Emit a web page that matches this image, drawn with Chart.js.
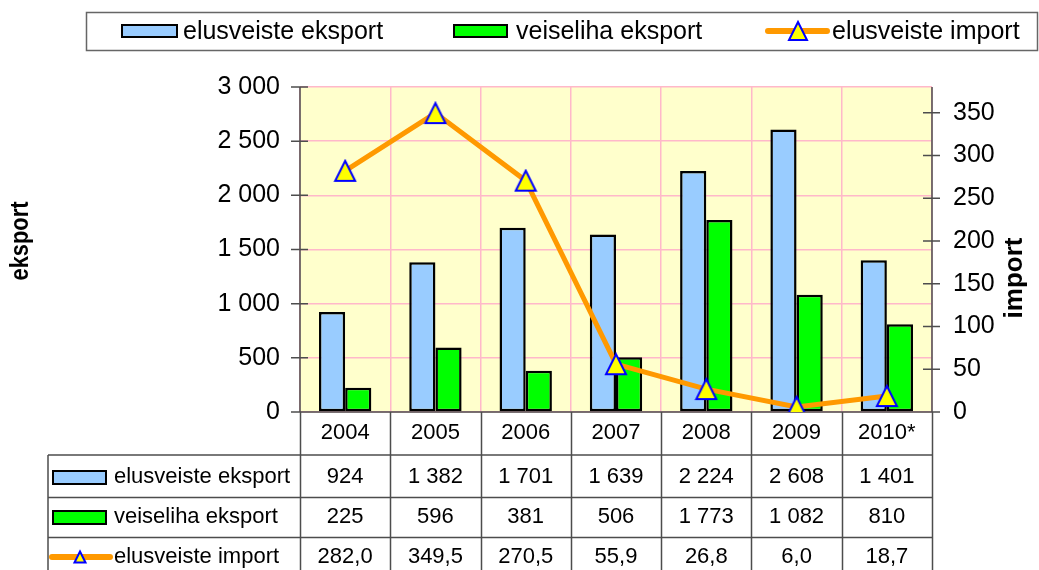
<!DOCTYPE html>
<html>
<head>
<meta charset="utf-8">
<script src="https://cdn.jsdelivr.net/npm/chart.js@4.4.1/dist/chart.umd.min.js"></script>
<style>
  body { margin: 0; background: #fff; }
  canvas { display: block; }
</style>
</head>
<body>
<canvas id="myChart" width="1039" height="570"></canvas>
<script>
// data
const years = ["2004", "2005", "2006", "2007", "2008", "2009", "2010*"];
const liveExport = [924, 1382, 1701, 1639, 2224, 2608, 1401];
const beefExport = [225, 596, 381, 506, 1773, 1082, 810];
const liveImport = [282.0, 349.5, 270.5, 55.9, 26.8, 6.0, 18.7];
const importTicks = [0, 50, 100, 150, 200, 250, 300, 350];

const FONT = "'Liberation Sans', Arial, sans-serif";
const BLUE = "#99CCFF";
const GREEN = "#00FF00";
const ORANGE = "#FF9900";
const PINK = "#FFB8CA";
const LINE = "#4d4d4d";

function spaced(v) {
  return String(v).replace(/\B(?=(\d{3})+(?!\d))/g, " ");
}
function comma(v) {
  return v.toFixed(1).replace(".", ",");
}

// isoceles triangle, w wide, h tall, centred on (x, y)
function triangle(ctx, x, y, w, h, lw) {
  ctx.save();
  ctx.beginPath();
  ctx.moveTo(x, y - h / 2);
  ctx.lineTo(x + w / 2, y + h / 2);
  ctx.lineTo(x - w / 2, y + h / 2);
  ctx.closePath();
  ctx.fillStyle = "#FFFF00";
  ctx.fill();
  ctx.lineWidth = lw;
  ctx.strokeStyle = "#0000FF";
  ctx.stroke();
  ctx.restore();
}

const marker = document.createElement("canvas");
marker.width = 24;
marker.height = 24;
triangle(marker.getContext("2d"), 12, 12, 20, 20, 2);

function swatch(ctx, x, y, w, h, color) {
  ctx.fillStyle = color;
  ctx.fillRect(x, y, w, h);
  ctx.lineWidth = 2;
  ctx.strokeStyle = "#000";
  ctx.strokeRect(x, y, w, h);
}

function lineSymbol(ctx, x1, x2, y, tx, s) {
  ctx.save();
  ctx.strokeStyle = ORANGE;
  ctx.lineWidth = 6;
  ctx.lineCap = "round";
  ctx.beginPath();
  ctx.moveTo(x1, y);
  ctx.lineTo(x2, y);
  ctx.stroke();
  ctx.restore();
  triangle(ctx, tx, y, s, s, 2);
}

function rotatedText(ctx, text, x, y, font, squeeze) {
  ctx.save();
  ctx.font = font;
  ctx.translate(x, y);
  ctx.rotate(-Math.PI / 2);
  ctx.scale(squeeze, 1);
  ctx.fillText(text, 0, 0);
  ctx.restore();
}

const chartDecor = {
  id: "chartDecor",
  beforeDraw(chart) {
    const { ctx, chartArea: a } = chart;
    ctx.save();
    ctx.fillStyle = "#FFFFCC";
    ctx.fillRect(a.left, a.top, a.right - a.left, a.bottom - a.top);
    ctx.restore();
  },
  beforeDatasetsDraw(chart) {
    const { ctx, chartArea: a, scales } = chart;
    ctx.save();
    ctx.strokeStyle = LINE;
    ctx.lineWidth = 1.5;
    ctx.beginPath();
    ctx.moveTo(a.left, a.top);
    ctx.lineTo(a.left, a.bottom);
    ctx.moveTo(a.right, a.top);
    ctx.lineTo(a.right, a.bottom);
    ctx.moveTo(a.left, a.bottom);
    ctx.lineTo(a.right, a.bottom);
    // crossing tick marks
    scales.y.ticks.forEach(t => {
      const y = scales.y.getPixelForValue(t.value);
      ctx.moveTo(a.left - 9, y);
      ctx.lineTo(a.left + 8, y);
    });
    scales.y1.ticks.forEach(t => {
      const y = scales.y1.getPixelForValue(t.value);
      ctx.moveTo(a.right - 9, y);
      ctx.lineTo(a.right + 8, y);
    });
    ctx.stroke();
    ctx.restore();
  },
  afterDraw(chart) {
    const { ctx, chartArea: a, scales } = chart;
    const x = scales.x;
    const step = (a.right - a.left) / years.length;
    const rows = [455, 497.5, 537.5];
    const tableLeft = 48;

    ctx.save();
    // table grid
    ctx.strokeStyle = LINE;
    ctx.lineWidth = 1.5;
    ctx.beginPath();
    for (let i = 0; i <= years.length; i++) {
      const px = Math.round(a.left + i * step) + 0.5;
      ctx.moveTo(px, a.bottom);
      ctx.lineTo(px, 570);
    }
    ctx.moveTo(tableLeft, rows[0]);
    ctx.lineTo(tableLeft, 570);
    rows.forEach(r => {
      ctx.moveTo(tableLeft, r);
      ctx.lineTo(a.right, r);
    });
    ctx.stroke();

    // table texts
    ctx.fillStyle = "#000";
    ctx.font = "22px " + FONT;
    ctx.textAlign = "center";
    ctx.textBaseline = "middle";
    const centers = [433, 477, 517, 557];
    years.forEach((yr, i) => {
      const cx = x.getPixelForValue(i);
      ctx.fillText(yr, cx, centers[0]);
      ctx.fillText(spaced(liveExport[i]), cx, centers[1]);
      ctx.fillText(spaced(beefExport[i]), cx, centers[2]);
      ctx.fillText(comma(liveImport[i]), cx, centers[3]);
    });

    // row labels
    const names = chart.data.datasets;
    swatch(ctx, 53, centers[1] - 6, 53, 13, BLUE);
    swatch(ctx, 53, centers[2] - 6, 53, 13, GREEN);
    lineSymbol(ctx, 52, 110, centers[3], 80, 11);
    ctx.fillStyle = "#000";
    ctx.textAlign = "left";
    ctx.fillText(names[1].label, 114, centers[1]);
    ctx.fillText(names[2].label, 114, centers[2]);
    ctx.fillText(names[0].label, 114, centers[3]);

    // top legend
    ctx.fillStyle = "#fff";
    ctx.fillRect(86.5, 12.5, 951, 38);
    ctx.strokeStyle = "#666";
    ctx.lineWidth = 1.5;
    ctx.strokeRect(86.5, 12.5, 951, 38);
    swatch(ctx, 122, 25, 55, 12, BLUE);
    swatch(ctx, 454, 25, 53, 12, GREEN);
    lineSymbol(ctx, 768, 827, 31, 798, 18);
    ctx.fillStyle = "#000";
    ctx.font = "25px " + FONT;
    ctx.fillText(names[1].label, 183, 32);
    ctx.fillText(names[2].label, 516, 32);
    ctx.fillText(names[0].label, 832, 32);

    // axis titles
    ctx.textAlign = "center";
    rotatedText(ctx, "eksport", 21, 241, "bold 26px " + FONT, 0.84);
    rotatedText(ctx, "import", 1015, 278, "bold 26px " + FONT, 1.0);
    ctx.restore();
  }
};

const ctx = document.getElementById("myChart");
new Chart(ctx, {
  data: {
    labels: years,
    datasets: [
      {
        type: "line",
        label: "elusveiste import",
        data: liveImport,
        yAxisID: "y1",
        borderColor: ORANGE,
        borderWidth: 5,
        tension: 0,
        pointStyle: marker,
        pointRadius: 12,
        pointHoverRadius: 12,
        order: 0,
      },
      {
        type: "bar",
        label: "elusveiste eksport",
        data: liveExport,
        yAxisID: "y",
        backgroundColor: BLUE,
        borderColor: "#000",
        borderWidth: 2.5,
        borderSkipped: false,
        categoryPercentage: 0.58,
        barPercentage: 1.0,
        order: 1,
      },
      {
        type: "bar",
        label: "veiseliha eksport",
        data: beefExport,
        yAxisID: "y",
        backgroundColor: GREEN,
        borderColor: "#000",
        borderWidth: 2.5,
        borderSkipped: false,
        categoryPercentage: 0.58,
        barPercentage: 1.0,
        order: 2,
      },
    ],
  },
  options: {
    responsive: false,
    animation: false,
    layout: { padding: { top: 87, left: 0, right: 0, bottom: 0 } },
    plugins: {
      legend: { display: false },
      tooltip: { enabled: false },
    },
    scales: {
      x: {
        type: "category",
        offset: true,
        grid: { color: PINK, lineWidth: 1.5, offset: true, drawTicks: false },
        border: { display: false },
        ticks: { display: false },
        afterFit(s) { s.height = 158; },
      },
      y: {
        position: "left",
        min: 0,
        max: 3000,
        ticks: {
          stepSize: 500,
          padding: 20,
          color: "#000",
          font: { size: 25, family: FONT },
          callback: v => spaced(v),
        },
        grid: { color: PINK, lineWidth: 1.5, drawTicks: false },
        border: { display: false },
        afterFit(s) { s.width = 300; },
      },
      y1: {
        position: "right",
        min: 0,
        max: 380,
        ticks: {
          stepSize: 50,
          padding: 21,
          color: "#000",
          font: { size: 25, family: FONT },
        },
        afterBuildTicks(s) { s.ticks = importTicks.map(v => ({ value: v })); },
        grid: { drawOnChartArea: false, drawTicks: false },
        border: { display: false },
        afterFit(s) { s.width = 107; },
      },
    },
  },
  plugins: [chartDecor],
});
</script>
</body>
</html>
